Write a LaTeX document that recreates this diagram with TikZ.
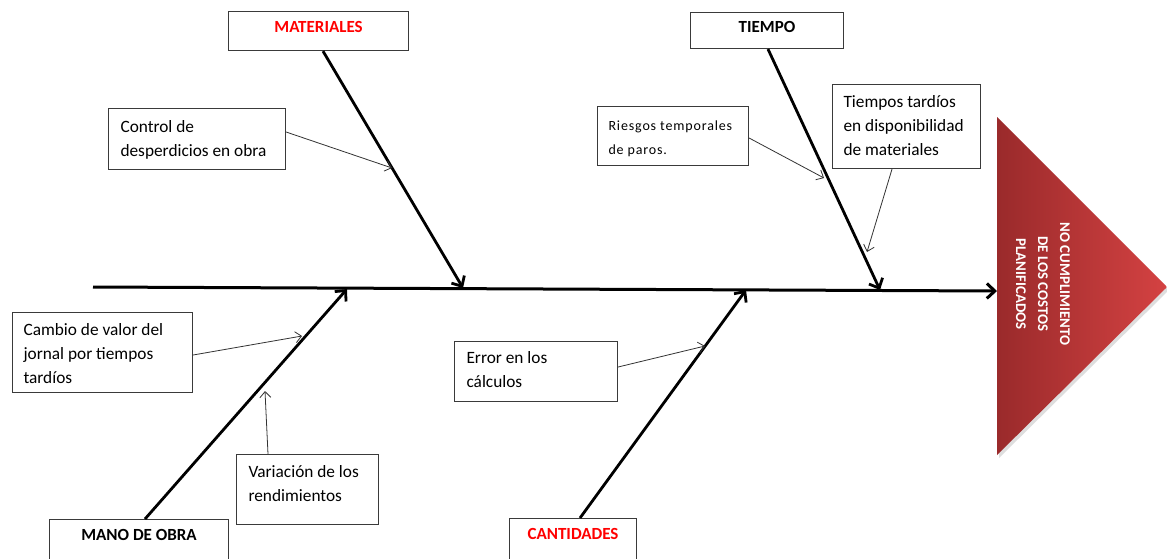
\documentclass[tikz,border=0pt]{standalone}
\usepackage{fontspec}
\setmainfont{Carlito}
\newfontfamily\riesfont{Carlito}[LetterSpace=6]
\usetikzlibrary{arrows.meta,calc}
\definecolor{boxline}{HTML}{3A3A3A}
\definecolor{trileft}{HTML}{9A2A2B}
\definecolor{triright}{HTML}{D44242}
\newcommand{\fbx}[5]{\begin{minipage}[t][#2][t]{#1}\vspace*{#3}\leftskip=#4\relax\rightskip=0pt plus 1fil\strut #5\end{minipage}}
\newcommand{\tbx}[4]{\begin{minipage}[t][#2][t]{#1}\centering\vspace*{#3}\fontsize{17}{19}\selectfont\bfseries\strut #4\end{minipage}}
\tikzset{
  cbox/.style={draw=boxline, line width=1.1pt, inner sep=0pt, anchor=north west, fill=white},
  tbox/.style={draw=boxline, line width=1.1pt, inner sep=0pt, anchor=north west, fill=white},
  body/.style={font=\fontsize{17.3}{24}\selectfont},
  bone/.style={line width=2.8pt, -{Straight Barb[length=8pt,width=15pt]}},
  sub/.style={draw=black!80, line width=0.8pt, -{Straight Barb[length=6pt,width=11pt]}},
  spine/.style={line width=3pt, -{Straight Barb[length=8pt,width=15pt]}}
}
\begin{document}
\begin{tikzpicture}[x=1pt,y=-1pt]
\useasboundingbox (0,0) rectangle (1167,558);
\clip (0,0) rectangle (1167,558);
\fill[white] (0,0) rectangle (1167,558);

% effect triangle
\fill[black!25, opacity=0.5] (999,120) -- (1169,290) -- (999,458) -- cycle;
\shade[left color=trileft, right color=triright] (997,117) -- (1167,287) -- (997,455) -- cycle;
\coordinate (tri) at (997,291);
\node[rotate=-90, text=white, align=center, font=\fontsize{14.8}{22}\selectfont\bfseries] (effect) at (1043,284)
  {NO CUMPLIMIENTO\\DE LOS COSTOS\\PLANIFICADOS};

% category boxes
\node[tbox] (mat) at (228,11) {\tbx{180pt}{39pt}{8pt}{\color{red}MATERIALES}};
\node[tbox] (tie) at (690,12) {\tbx{153pt}{36pt}{7pt}{TIEMPO}};
\node[tbox] (mano) at (49,519) {\tbx{179pt}{60pt}{8pt}{MANO DE OBRA}};
\node[tbox] (cant) at (509,518) {\tbx{127pt}{60pt}{8pt}{\color{red}CANTIDADES}};

% cause boxes
\node[cbox, body] (ctrl) at (108,108) {\fbx{177pt}{61pt}{7pt}{12pt}{Control de\\desperdicios en obra}};
\node[cbox] (ries) at (597,106) {\riesfont\fontsize{14}{24}\selectfont\fbx{151pt}{59pt}{7pt}{11pt}{Riesgos temporales\\de paros.}};
\node[cbox, body] (tdisp) at (832,84) {\fbx{148pt}{84pt}{6pt}{11pt}{Tiempos tardíos\\en disponibilidad\\de materiales}};
\node[cbox, body] (camb) at (12,312) {\fbx{180pt}{80pt}{6pt}{11pt}{Cambio de valor del\\jornal por tiempos\\tardíos}};
\node[cbox, body] (var) at (236,454) {\fbx{142pt}{70pt}{6pt}{12pt}{Variación de los\\rendimientos}};
\node[cbox, body] (err) at (454,341) {\fbx{163pt}{60pt}{5pt}{12pt}{Error en los\\cálculos}};

% spine
\coordinate (tail) at (93,287);
\draw[spine] (tail) -- (tri);

% bone end points on spine
\coordinate (matend) at (463,288);
\coordinate (tieend) at (880,290);
\coordinate (manoend) at (347,289);
\coordinate (cantend) at (746,290);

\draw[bone] (323,0 |- mat.south) -- (matend);
\draw[bone] (768,0 |- tie.south) -- (tieend);
\draw[bone] (145,0 |- mano.north) -- (manoend);
\draw[bone] (580,0 |- cant.north) -- (cantend);

% sub arrows
\coordinate (ctrlend) at (392,168);
\coordinate (riesend) at (824,178);
\coordinate (tdispend) at (867,252);
\coordinate (cambend) at (302,336);
\coordinate (varend) at (265,391);
\coordinate (errend) at (705,346);
\draw[sub] (ctrl.east |- 0,132) -- (ctrlend);
\draw[sub] (ries.east |- 0,138) -- (riesend);
\draw[sub] (892,0 |- tdisp.south) -- (tdispend);
\draw[sub] (camb.east |- 0,355) -- (cambend);
\draw[sub] (268,0 |- var.north) -- (varend);
\draw[sub] (err.east |- 0,367) -- (errend);
\end{tikzpicture}
\end{document}
